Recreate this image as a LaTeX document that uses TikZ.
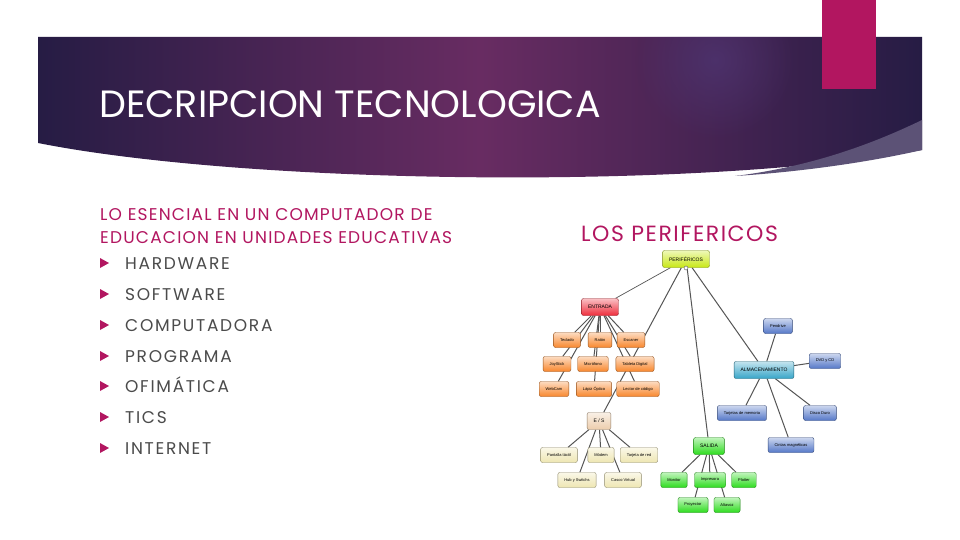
\documentclass[tikz,border=0pt]{standalone}
\usepackage{fontspec}
\setmainfont{Poppins}
\newfontfamily\mapfont{Liberation Sans}
\newfontfamily\spacedfont[LetterSpace=10]{Poppins}
\newfontfamily\headfont[LetterSpace=7]{Poppins}
\usetikzlibrary{backgrounds}
\usetikzlibrary{fadings}
\tikzfading[name=glowfade, inner color=transparent!20, outer color=transparent!100]
\definecolor{mag}{RGB}{178,22,96}
\definecolor{txtgrey}{RGB}{75,75,75}
\definecolor{perifc}{RGB}{200,232,20}
\definecolor{entc}{RGB}{238,45,60}
\definecolor{orangec}{RGB}{248,135,45}
\definecolor{beigec}{RGB}{236,205,172}
\definecolor{creamc}{RGB}{238,230,178}
\definecolor{greenc}{RGB}{45,220,30}
\definecolor{tealc}{RGB}{55,165,200}
\definecolor{bluec}{RGB}{85,120,200}
\definecolor{banL}{RGB}{38,28,68}
\definecolor{banM}{RGB}{104,44,98}
\definecolor{glowc}{RGB}{78,52,112}
\definecolor{swooshc}{RGB}{92,82,118}
\definecolor{wirec}{RGB}{85,85,85}
\pgfdeclarelayer{paper}
\pgfsetlayers{paper,background,main}

\begin{document}
\begin{tikzpicture}[x=1pt, y=-1pt,
  pbox/.style={rectangle, rounded corners=2pt, draw=#1!60!black, top color=#1!30!white, bottom color=#1,
    font=\mapfont\fontsize{4}{5}\selectfont, minimum height=15, inner xsep=6.5, inner ysep=2},
  hub/.style={pbox=#1, font=\mapfont\fontsize{5}{6}\selectfont, minimum height=17},
  item/.style={anchor=base west, text=txtgrey, font=\spacedfont\fontsize{17}{19}\selectfont, inner sep=0},
  head/.style={anchor=base west, text=mag, font=\headfont\fontsize{17}{19}\selectfont, inner sep=0},
  wire/.style={draw=wirec, line width=1}]
  \useasboundingbox (0,0) rectangle (960,540);
  \begin{pgfonlayer}{paper}
    \fill[white] (0,0) rectangle (960,540);
  \end{pgfonlayer}

  \shade[left color=banL, right color=banL, middle color=banM]
    (38,37) -- (922,37) -- (922,150) .. controls (700,190) and (250,185) .. (38,143) -- cycle;
  \begin{scope}
    \clip (38,37) -- (922,37) -- (922,150) .. controls (700,190) and (250,185) .. (38,143) -- cycle;
    \fill[glowc, path fading=glowfade] (715,60) circle (80);
  \end{scope}
  \fill[swooshc] (922,120) .. controls (860,150) and (800,168) .. (735,176)
    .. controls (800,172) and (870,162) .. (922,150) -- cycle;
  \fill[mag] (822,0) rectangle (876,89);
  \draw (99,118) node[anchor=base west, text=white, font=\fontsize{38}{42}\selectfont, inner sep=0](title) {DECRIPCION TECNOLOGICA};

  \draw (100,220) node[head](sub1) {LO ESENCIAL EN UN COMPUTADOR DE};
  \draw (100,243) node[head](sub2) {EDUCACION EN UNIDADES EDUCATIVAS};
  \draw (581,241) node[head, font=\headfont\fontsize{22}{24}\selectfont](perhead) {LOS PERIFERICOS};

  \fill[mag] (100,258) -- ++(9,5) -- ++(-9,5) -- cycle;
  \draw (125,269) node[item](hw) {HARDWARE};
  \fill[mag] (100,289) -- ++(9,5) -- ++(-9,5) -- cycle;
  \draw (125,300) node[item](sw) {SOFTWARE};
  \fill[mag] (100,320) -- ++(9,5) -- ++(-9,5) -- cycle;
  \draw (125,331) node[item](comp) {COMPUTADORA};
  \fill[mag] (100,351) -- ++(9,5) -- ++(-9,5) -- cycle;
  \draw (125,362) node[item](prog) {PROGRAMA};
  \fill[mag] (100,381) -- ++(9,5) -- ++(-9,5) -- cycle;
  \draw (125,392) node[item](ofi) {OFIMÁTICA};
  \fill[mag] (100,412) -- ++(9,5) -- ++(-9,5) -- cycle;
  \draw (125,423) node[item](tics) {TICS};
  \fill[mag] (100,443) -- ++(9,5) -- ++(-9,5) -- cycle;
  \draw (125,454) node[item](inet) {INTERNET};

  \draw (686,259) node[hub=perifc](perif) {PERIFÉRICOS};
  \draw (686,268) node[circle, draw=wirec, fill=white, inner sep=0, minimum size=4](knob) {};
  \draw (600,307) node[hub=entc](ent) {ENTRADA};
  \draw (567,340) node[pbox=orangec](tec) {Teclado};
  \draw (600,340) node[pbox=orangec](rat) {Ratón};
  \draw (631,340) node[pbox=orangec](scan) {Escaner};
  \draw (557,364) node[pbox=orangec](joy) {JoyStick};
  \draw (593,364) node[pbox=orangec](mic) {Micrófono};
  \draw (635,364) node[pbox=orangec](tab) {Tableta Digital};
  \draw (554,389) node[pbox=orangec](web) {WebCam};
  \draw (594,389) node[pbox=orangec](lap) {Lápiz Óptico};
  \draw (638,389) node[pbox=orangec](lec) {Lector de código};
  \draw (599,421) node[hub=beigec](es) {E / S};
  \draw (559,455) node[pbox=creamc](pant) {Pantalla táctil};
  \draw (601,455) node[pbox=creamc](mod) {Módem};
  \draw (639,455) node[pbox=creamc](tred) {Tarjeta de red};
  \draw (577,480) node[pbox=creamc](hubsw) {Hub y Switchs};
  \draw (623,480) node[pbox=creamc](casco) {Casco Virtual};
  \draw (709,446) node[hub=greenc](sal) {SALIDA};
  \draw (674,480) node[pbox=greenc](moni) {Monitor};
  \draw (710,480) node[pbox=greenc](imp) {Impresora};
  \draw (744,480) node[pbox=greenc](plot) {Plotter};
  \draw (693,505) node[pbox=greenc](proy) {Proyector};
  \draw (727,505) node[pbox=greenc](alt) {Altavoz};
  \draw (764,370) node[hub=tealc](alm) {ALMACENAMIENTO};
  \draw (778,326) node[pbox=bluec](pen) {Pendrive};
  \draw (825,361) node[pbox=bluec](dvd) {DVD y CD};
  \draw (742,413) node[pbox=bluec](tmem) {Tarjetas de memoria};
  \draw (820,413) node[pbox=bluec](disco) {Disco Duro};
  \draw (791,445) node[pbox=bluec](cint) {Cintas magnéticas};

  \begin{pgfonlayer}{background}
  \path (perif) edge[wire, line width=0.7] (ent)
                edge[wire] (es)
                edge[wire] (sal)
                edge[wire] (alm)
        (ent) edge[wire] (tec)
              edge[wire] (rat)
              edge[wire] (scan)
              edge[wire] (joy)
              edge[wire] (mic)
              edge[wire] (tab)
              edge[wire] (web)
              edge[wire] (lap)
              edge[wire] (lec)
        (es) edge[wire] (pant)
             edge[wire] (mod)
             edge[wire] (tred)
             edge[wire] (hubsw)
             edge[wire] (casco)
        (sal) edge[wire] (moni)
              edge[wire] (imp)
              edge[wire] (plot)
              edge[wire] (proy)
              edge[wire] (alt)
        (alm) edge[wire] (pen)
              edge[wire] (dvd)
              edge[wire] (tmem)
              edge[wire] (disco)
              edge[wire] (cint);
  \end{pgfonlayer}
\end{tikzpicture}
\end{document}
